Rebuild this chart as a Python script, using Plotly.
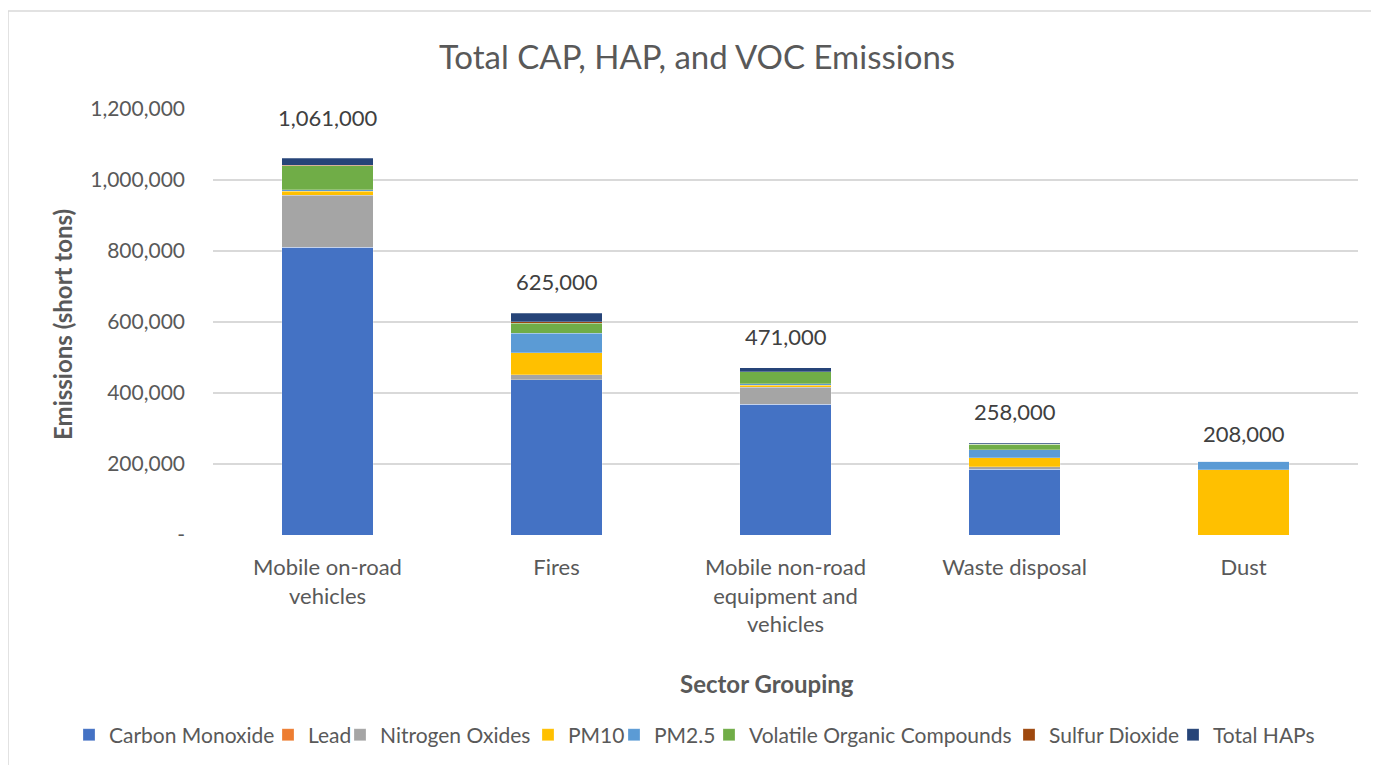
import plotly.graph_objects as go

categories = ["Mobile on-road<br>vehicles", "Fires", "Mobile non-road<br>equipment and<br>vehicles", "Waste disposal", "Dust"]
totals = [1061000, 625000, 471000, 258000, 208000]
total_labels = ["1,061,000", "625,000", "471,000", "258,000", "208,000"]

carbon_monoxide = [810000, 437000, 368000, 185000, 0]
lead = [50, 30, 30, 10, 0]
nitrogen_oxides = [147000, 14000, 48000, 7000, 0]
pm10 = [11000, 63000, 6000, 25000, 184000]
pm25 = [4000, 54000, 4000, 23000, 24000]
voc = [68000, 29000, 34000, 16000, 0]
sulfur_dioxide = [2000, 4000, 500, 300, 0]
total_haps = [19000, 24000, 11000, 2000, 0]

series = [
    ("Carbon Monoxide", carbon_monoxide, "#4472C4"),
    ("Lead", lead, "#ED7D31"),
    ("Nitrogen Oxides", nitrogen_oxides, "#A5A5A5"),
    ("PM10", pm10, "#FFC000"),
    ("PM2.5", pm25, "#5B9BD5"),
    ("Volatile Organic Compounds", voc, "#70AD47"),
    ("Sulfur Dioxide", sulfur_dioxide, "#9E480E"),
    ("Total HAPs", total_haps, "#264478"),
]

y_tickvals = [0, 200000, 400000, 600000, 800000, 1000000, 1200000]
y_ticktext = ["-", "200,000", "400,000", "600,000", "800,000", "1,000,000", "1,200,000"]

# layout helpers (screen px positions)
label_shift = [25, 16, 16, 16, 12]
legend_text_px = [107, 306, 378, 566, 652, 747, 1047, 1211]

FONT = "Lato, 'Open Sans', sans-serif"
GREY = "#595959"

# figure placed in page with 8px body margin
W, H = 1371, 757
L, R, T, B = 205, 21, 101, 230
PW, PH = W - L - R, H - T - B


def px_x(sx):
    return (sx - 8 - L) / PW


def px_y(sy):
    return (T + PH - (sy - 8)) / PH


fig = go.Figure()
legend_layouts = {}
for i, (name, vals, color) in enumerate(series):
    lg = "legend" if i == 0 else f"legend{i + 1}"
    fig.add_trace(go.Bar(
        x=categories, y=vals, name=name, legend=lg,
        marker=dict(color=color, line=dict(color="rgba(255,255,255,0.5)", width=0.5)),
    ))
    legend_layouts[lg] = dict(
        orientation="h", xref="paper", yref="paper",
        x=px_x(legend_text_px[i] - 38), xanchor="left",
        y=px_y(735), yanchor="middle",
        font=dict(size=21, color=GREY, family=FONT),
        itemwidth=30, bgcolor="rgba(0,0,0,0)", borderwidth=0,
    )

for c, t, lbl, s in zip(categories, totals, total_labels, label_shift):
    fig.add_annotation(x=c, y=t, text=lbl, showarrow=False, yanchor="bottom", yshift=s,
                       font=dict(size=22, color="#404040", family=FONT))

fig.add_annotation(xref="paper", yref="paper", x=px_x(767), y=px_y(683),
                   text="<b>Sector Grouping</b>",
                   showarrow=False, xanchor="center", yanchor="middle",
                   font=dict(size=24, color=GREY, family=FONT))
fig.add_annotation(xref="paper", yref="paper", x=px_x(62), y=px_y(324),
                   text="<b>Emissions (short tons)</b>",
                   showarrow=False, textangle=-90, xanchor="center", yanchor="middle",
                   font=dict(size=24, color=GREY, family=FONT))

fig.add_shape(type="rect", xref="paper", yref="paper",
              x0=px_x(8), x1=px_x(1395),
              y0=px_y(790), y1=px_y(11),
              line=dict(color="#D9D9D9", width=1.5), fillcolor="rgba(0,0,0,0)", layer="below")

fig.update_layout(
    width=W, height=H,
    margin=dict(l=L, r=R, t=T, b=B, autoexpand=False),
    barmode="stack", bargap=0.6,
    paper_bgcolor="white", plot_bgcolor="white",
    font=dict(family=FONT, color=GREY, size=20),
    title=dict(text="Total CAP, HAP, and VOC Emissions", x=(697 - 8) / W, xref="container", xanchor="center",
               y=1 - 49 / H, yref="container", yanchor="middle", font=dict(size=33, color=GREY, family=FONT)),
    showlegend=True,
    xaxis=dict(showgrid=False, showline=False, ticks="", ticklabelstandoff=17,
               tickfont=dict(size=22, color=GREY)),
    yaxis=dict(range=[0, 1200000], tickvals=y_tickvals, ticktext=y_ticktext,
               showgrid=True, gridcolor="#D9D9D9", gridwidth=1.5, zeroline=False,
               showline=False, ticks="", ticklabelstandoff=27,
               tickfont=dict(size=21, color=GREY)),
    **legend_layouts,
)

fig.write_html("out.html")
